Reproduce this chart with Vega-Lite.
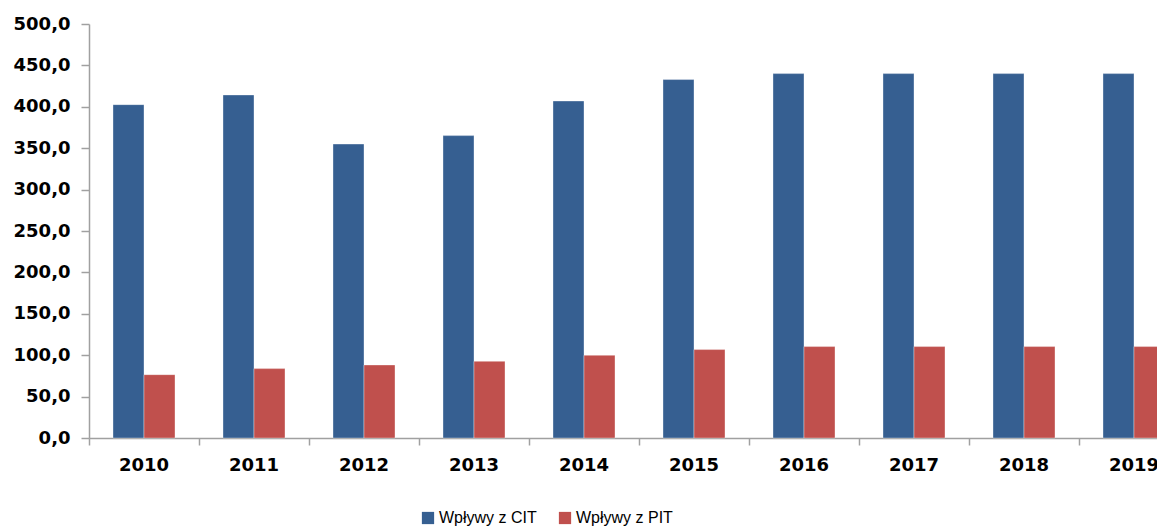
{
  "$schema": "https://vega.github.io/schema/vega-lite/v6.json",
  "autosize": "none",
  "width": 1068,
  "height": 414,
  "padding": {"left": 89, "top": 24, "right": 0, "bottom": 89},
  "background": "white",
  "data": {
    "values": [
      {"year": "2010", "series": "Wpływy z CIT", "value": 402.6},
      {"year": "2011", "series": "Wpływy z CIT", "value": 414.3},
      {"year": "2012", "series": "Wpływy z CIT", "value": 355.0},
      {"year": "2013", "series": "Wpływy z CIT", "value": 365.2},
      {"year": "2014", "series": "Wpływy z CIT", "value": 407.0},
      {"year": "2015", "series": "Wpływy z CIT", "value": 432.9},
      {"year": "2016", "series": "Wpływy z CIT", "value": 440.1},
      {"year": "2017", "series": "Wpływy z CIT", "value": 440.1},
      {"year": "2018", "series": "Wpływy z CIT", "value": 440.1},
      {"year": "2019", "series": "Wpływy z CIT", "value": 440.1},
      {"year": "2010", "series": "Wpływy z PIT", "value": 76.5},
      {"year": "2011", "series": "Wpływy z PIT", "value": 83.8},
      {"year": "2012", "series": "Wpływy z PIT", "value": 88.2},
      {"year": "2013", "series": "Wpływy z PIT", "value": 92.6},
      {"year": "2014", "series": "Wpływy z PIT", "value": 99.9},
      {"year": "2015", "series": "Wpływy z PIT", "value": 106.8},
      {"year": "2016", "series": "Wpływy z PIT", "value": 110.4},
      {"year": "2017", "series": "Wpływy z PIT", "value": 110.4},
      {"year": "2018", "series": "Wpływy z PIT", "value": 110.4},
      {"year": "2019", "series": "Wpływy z PIT", "value": 110.4}
    ]
  },
  "mark": {"type": "bar", "stroke": "white", "strokeOpacity": 0.35, "strokeWidth": 1},
  "encoding": {
    "x": {
      "field": "year",
      "type": "nominal",
      "sort": null,
      "title": null,
      "scale": {"range": [0, 1100], "paddingInner": 0, "paddingOuter": 0},
      "axis": {
        "bandPosition": 0,
        "domainColor": "#A0A0A0",
        "domainWidth": 1.5,
        "tickColor": "#A0A0A0",
        "tickWidth": 1.5,
        "tickSize": 7,
        "labelAngle": 0,
        "labelFont": "DejaVu Sans",
        "labelFontWeight": "bold",
        "labelFontSize": 18,
        "labelColor": "#000000",
        "labelPadding": 11,
        "labelBound": false,
        "labelOverlap": false,
        "grid": false
      }
    },
    "xOffset": {
      "field": "series",
      "type": "nominal",
      "scale": {"paddingInner": 0, "paddingOuter": 0.774}
    },
    "y": {
      "field": "value",
      "type": "quantitative",
      "title": null,
      "scale": {"domain": [0, 500], "nice": false},
      "axis": {
        "values": [0, 50, 100, 150, 200, 250, 300, 350, 400, 450, 500],
        "labelExpr": "replace(format(datum.value, '.1f'), '.', ',')",
        "domainColor": "#A0A0A0",
        "domainWidth": 1.5,
        "tickColor": "#A0A0A0",
        "tickWidth": 1.5,
        "tickSize": 8,
        "labelFont": "DejaVu Sans",
        "labelFontWeight": "bold",
        "labelFontSize": 18,
        "labelColor": "#000000",
        "labelPadding": 11,
        "grid": false
      }
    },
    "color": {
      "field": "series",
      "type": "nominal",
      "scale": {"domain": ["Wpływy z CIT", "Wpływy z PIT"], "range": ["#365F91", "#C0504D"]},
      "legend": {
        "title": null,
        "orient": "none",
        "direction": "horizontal",
        "legendX": 331,
        "legendY": 486,
        "symbolType": "square",
        "symbolSize": 150,
        "symbolStrokeWidth": 0,
        "labelFont": "Liberation Sans",
        "labelFontSize": 16,
        "labelColor": "#000000",
        "labelOffset": 3,
        "columnPadding": 20
      }
    }
  },
  "config": {"view": {"stroke": null}}
}
